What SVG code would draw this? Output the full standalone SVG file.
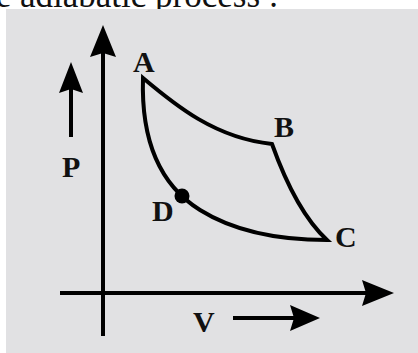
<svg xmlns="http://www.w3.org/2000/svg" width="418" height="353" viewBox="0 0 418 353">
  <style>
    .lbl { font-family: "Liberation Serif", "Times New Roman", serif; font-weight: bold; font-size: 30px; fill: #111; }
    .cap { font-family: "Liberation Serif", "Times New Roman", serif; font-size: 35px; fill: #111; }
    .ln { stroke: #000; stroke-width: 4; fill: none; }
    .curve { stroke: #000; stroke-width: 4; fill: none; stroke-linejoin: miter; }
    .head { fill: #000; }
  </style>
  <rect x="0" y="0" width="418" height="353" fill="#ffffff"/>
  <text class="cap" x="-14" y="7">le adiabatic process :</text>
  <rect x="6" y="9" width="412" height="344" fill="#e1e1e3"/>

  <g id="axes">
    <line class="ln" x1="103" y1="336" x2="103" y2="50"/>
    <polygon class="head" points="103,25 116,57 103,53 90,57"/>
    <line class="ln" x1="60" y1="293" x2="370" y2="293"/>
    <polygon class="head" points="394,293 362,280 366,293 362,306"/>
  </g>

  <g id="p-arrow">
    <line class="ln" x1="71" y1="137" x2="71" y2="88"/>
    <polygon class="head" points="71,62 83,93 71,89 59,93"/>
    <text class="lbl" x="62" y="177">P</text>
  </g>

  <g id="v-arrow">
    <line class="ln" x1="233" y1="318" x2="296" y2="318"/>
    <polygon class="head" points="320,318 290,305 294,318 290,331"/>
    <text class="lbl" x="193" y="332">V</text>
  </g>

  <g id="cycle">
    <path class="curve" d="M272,144 C215,138 175,105 143,78 C141,140 160,185 200,210 C240,235 290,240 327,240 C300,215 282,172 272,144 Z"/>
  </g>

  <g id="node-A"><text class="lbl" x="133" y="72">A</text></g>
  <g id="node-B"><text class="lbl" x="274" y="137">B</text></g>
  <g id="node-C"><text class="lbl" x="335" y="247">C</text></g>
  <g id="node-D">
    <circle cx="182" cy="196" r="7.5" fill="#000"/>
    <text class="lbl" x="152" y="221">D</text>
  </g>
</svg>
